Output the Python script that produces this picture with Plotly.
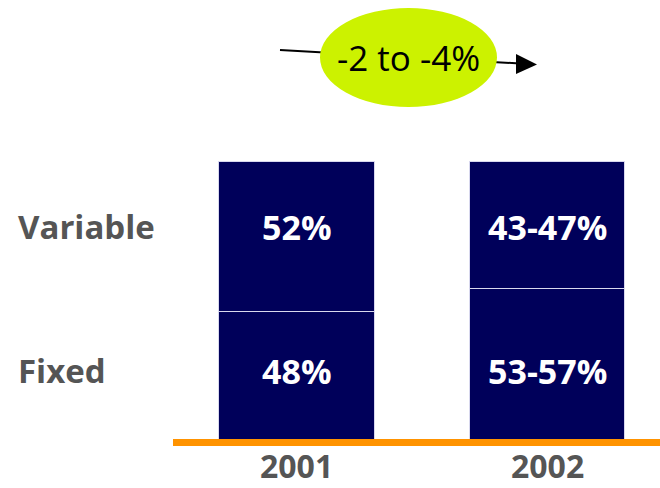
import plotly.graph_objects as go

years = ["2001", "2002"]
fixed_share = [46, 54]          # drawn height of lower segment (%)
variable_share = [54, 46]       # drawn height of upper segment (%)
fixed_labels = ["48%", "53-57%"]
variable_labels = ["52%", "43-47%"]
row_labels = ["Variable", "Fixed"]
change_label = "-2 to -4%"

W, H = 660, 488
NAVY = "#00005A"
GRAY = "#555555"
FONT = "Open Sans"

xpos = list(range(len(years)))

fig = go.Figure()
fig.add_bar(x=xpos, y=fixed_share, width=0.62, marker=dict(color=NAVY, line=dict(color="#d8d8ee", width=1)),
            hoverinfo="skip")
fig.add_bar(x=xpos, y=variable_share, width=0.62, marker=dict(color=NAVY, line=dict(color="#d8d8ee", width=1)),
            hoverinfo="skip")

def px(x):
    return x / W

def py(y):
    return 1 - y / H

ann = []
# labels inside bars (aligned with row labels)
for i in xpos:
    ann.append(dict(x=i, y=76.3, xref="x", yref="y", text=variable_labels[i], showarrow=False,
                    yanchor="middle", font=dict(family=FONT, size=34, color="white", weight="bold")))
    ann.append(dict(x=i, y=24.5, xref="x", yref="y", text=fixed_labels[i], showarrow=False,
                    yanchor="middle", font=dict(family=FONT, size=34, color="white", weight="bold")))
    ann.append(dict(x=i, y=-9.6, xref="x", yref="y", text=years[i], showarrow=False,
                    yanchor="middle", font=dict(family=FONT, size=32, color=GRAY, weight="bold")))
# row labels
ann.append(dict(x=px(16), y=76.3, xref="paper", yref="y", text=row_labels[0], showarrow=False, xanchor="left",
                yanchor="middle", font=dict(family=FONT, size=33, color=GRAY, weight="bold")))
ann.append(dict(x=px(16), y=24.5, xref="paper", yref="y", text=row_labels[1], showarrow=False, xanchor="left",
                yanchor="middle", font=dict(family=FONT, size=33, color=GRAY, weight="bold")))
# ellipse text
ann.append(dict(x=px(408), y=py(58), xref="paper", yref="paper", text=change_label, showarrow=False,
                xanchor="center", yanchor="middle", font=dict(family=FONT, size=35, color="black")))

shapes = [
    # orange baseline
    dict(type="line", xref="paper", yref="paper", x0=px(173), x1=px(660), y0=py(442.5), y1=py(442.5),
         line=dict(color="#FF9300", width=7)),
    # arrow line
    dict(type="line", xref="paper", yref="paper", x0=px(280), y0=py(50), x1=px(520), y1=py(63.5),
         line=dict(color="black", width=2)),
    # arrow head
    dict(type="path", xref="paper", yref="paper",
         path=f"M {px(516)} {py(54)} L {px(537)} {py(64.5)} L {px(516)} {py(74)} Z",
         fillcolor="black", line=dict(color="black", width=0)),
    # ellipse
    dict(type="circle", xref="paper", yref="paper", x0=px(320), x1=px(497), y0=py(107), y1=py(8),
         fillcolor="#CCF200", line=dict(color="#CCF200", width=0)),
]

fig.update_layout(
    barmode="stack", width=W, height=H, margin=dict(l=0, r=0, t=0, b=0),
    paper_bgcolor="white", plot_bgcolor="white", showlegend=False,
    xaxis=dict(range=[-296.5 / 250.5, (660 - 296.5) / 250.5], visible=False, fixedrange=True),
    yaxis=dict(range=[-49 / 2.78, 100 + 161 / 2.78], visible=False, fixedrange=True),
    annotations=ann, shapes=shapes,
)

fig.write_html("out.html")
